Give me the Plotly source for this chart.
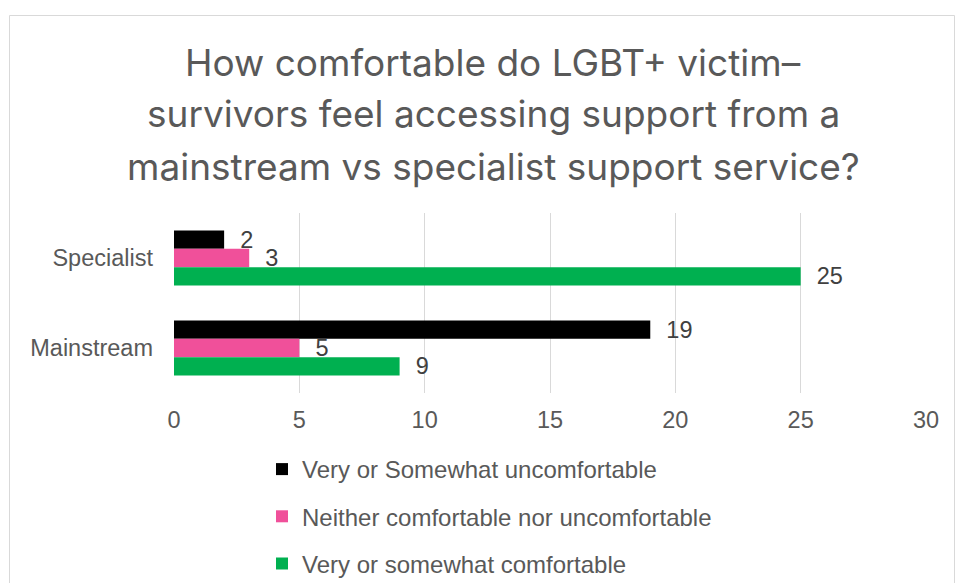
import plotly.graph_objects as go

# Survey responses: number of LGBT+ victim-survivors per comfort level
services = ["Specialist", "Mainstream"]
uncomfortable = [2, 19]
neutral = [3, 5]
comfortable = [25, 9]

series_names = [
    "Very or Somewhat uncomfortable",
    "Neither comfortable nor uncomfortable",
    "Very or somewhat comfortable",
]
series_values = [uncomfortable, neutral, comfortable]
series_colors = ["#000000", "#F0509A", "#00B050"]

x_ticks = [0, 5, 10, 15, 20, 25, 30]

title_lines = [
    "How comfortable do LGBT+ victim\u2013",
    "survivors feel accessing support from a",
    "mainstream vs specialist support service?",
]

W, H = 955, 583
L, R, T, B = 174, 29, 213, 190
plot_w = W - L - R
plot_h = H - T - B

LABEL_FONT = "Liberation Sans, Arial, sans-serif"

fig = go.Figure()
for i, (name, vals, col) in enumerate(zip(series_names, series_values, series_colors)):
    fig.add_trace(go.Bar(
        y=services,
        x=vals,
        name=name,
        orientation="h",
        marker=dict(color=col, line=dict(width=0)),
        text=vals,
        texttemplate="\u00a0\u00a0%{x}",
        textposition="outside",
        constraintext="none",
        cliponaxis=False,
        textfont=dict(family=LABEL_FONT, size=23.5, color="#404040"),
        legendgroup=f"g{i}",
    ))

def px_to_paper_x(px):
    return (px - L) / plot_w

def px_to_paper_y(py):
    return (H - B - py) / plot_h

# chart-area frame
fig.add_shape(
    type="rect", xref="paper", yref="paper",
    x0=px_to_paper_x(9.5), x1=px_to_paper_x(954.5),
    y0=px_to_paper_y(600), y1=px_to_paper_y(15.5),
    line=dict(color="#D9D9D9", width=1), fillcolor="rgba(0,0,0,0)", layer="below",
)

# chart title, one annotation per line for even line spacing
for k, line in enumerate(title_lines):
    fig.add_annotation(
        text=line, showarrow=False,
        xref="paper", yref="paper",
        x=px_to_paper_x(493), xanchor="center",
        y=px_to_paper_y(62 + 52 * k), yanchor="middle",
        font=dict(family="Inter, sans-serif", size=37, color="#595959"),
    )

fig.update_layout(
    width=W, height=H,
    margin=dict(l=L, r=R, t=T, b=B, pad=0, autoexpand=False),
    paper_bgcolor="white", plot_bgcolor="white",
    barmode="group", bargap=0.39, bargroupgap=0,
    xaxis=dict(
        range=[0, 30], tickvals=x_ticks, showgrid=True, gridcolor="#D9D9D9", gridwidth=1,
        zeroline=False, showline=False, ticks="", ticklabelstandoff=10,
        tickfont=dict(family=LABEL_FONT, size=23.5, color="#595959"),
    ),
    yaxis=dict(
        categoryorder="array", categoryarray=services, autorange="reversed",
        showgrid=False, zeroline=False, showline=False, ticks="", ticklabelstandoff=20,
        tickfont=dict(family=LABEL_FONT, size=23.5, color="#595959"),
    ),
    legend=dict(
        xref="container", yref="container",
        x=262 / W, y=1 - 447 / H, xanchor="left", yanchor="top",
        orientation="v", tracegroupgap=13, itemwidth=30,
        font=dict(family=LABEL_FONT, size=24, color="#595959"),
        bgcolor="rgba(0,0,0,0)",
    ),
    showlegend=True,
)

fig.write_html("out.html")
